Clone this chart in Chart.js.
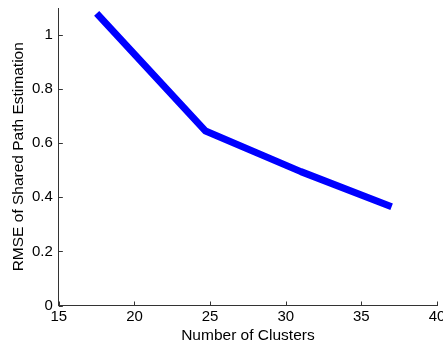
<!DOCTYPE html>
<html>
<head>
<meta charset="utf-8">
<script src="https://cdn.jsdelivr.net/npm/chart.js@4"></script>
<style>
  html, body { margin: 0; padding: 0; background: #fff; overflow: hidden; }
  #wrap { width: 443px; height: 343px; }
</style>
</head>
<body>
<div id="wrap"><canvas id="c"></canvas></div>
<script>
// datos
const clusters = [17.5, 24.7, 31, 37];
const rmse = [1.08, 0.645, 0.495, 0.365];
const xTicks = [15, 20, 25, 30, 35, 40];
const yTicks = [0, 0.2, 0.4, 0.6, 0.8, 1];

const TICK_FONT = { family: 'Liberation Sans, Arial, sans-serif', size: 15, lineHeight: 1.2 };
const TITLE_FONT = { family: 'Liberation Sans, Arial, sans-serif', size: 15.5, lineHeight: 1 };
const AXIS = '#333';

// ticks hacia dentro, estilo MATLAB
const inwardTicks = {
  id: 'inwardTicks',
  afterDraw(chart) {
    const { ctx, chartArea: a, scales } = chart;
    ctx.save();
    ctx.strokeStyle = AXIS;
    ctx.lineWidth = 1;
    ctx.beginPath();
    scales.x.ticks.forEach((t, i) => {
      const px = Math.round(scales.x.getPixelForTick(i)) + 0.5;
      ctx.moveTo(px, a.bottom);
      ctx.lineTo(px, a.bottom - 4);
    });
    scales.y.ticks.forEach((t, i) => {
      const py = Math.round(scales.y.getPixelForTick(i)) + 0.5;
      ctx.moveTo(a.left, py);
      ctx.lineTo(a.left + 4, py);
    });
    ctx.stroke();
    ctx.restore();
  }
};

// sin margen extra por las etiquetas de los extremos (el "40" queda cortado)
const noEdgePad = s => { s.paddingTop = 0; s.paddingBottom = 0; s.paddingLeft = 0; s.paddingRight = 0; };

new Chart(document.getElementById('c'), {
  type: 'line',
  data: {
    datasets: [{
      data: clusters.map((x, i) => ({ x, y: rmse[i] })),
      borderColor: '#0000ff',
      borderWidth: 7,
      pointRadius: 0,
      tension: 0,
      borderJoinStyle: 'round',
      fill: false,
    }]
  },
  options: {
    responsive: true,
    maintainAspectRatio: false,
    animation: false,
    events: [],
    layout: { padding: { left: 10.5, top: 8, right: 6, bottom: 0 } },
    plugins: { legend: { display: false }, tooltip: { enabled: false } },
    scales: {
      x: {
        type: 'linear',
        min: 15, max: 40,
        afterBuildTicks: s => { s.ticks = xTicks.map(v => ({ value: v })); },
        afterFit: noEdgePad,
        grid: { display: false, drawTicks: false },
        border: { display: true, color: AXIS, width: 1 },
        ticks: { color: '#000', font: TICK_FONT, padding: 2, maxRotation: 0, callback: v => String(v) },
        title: { display: true, text: 'Number of Clusters', color: '#000', font: TITLE_FONT, padding: 0 },
      },
      y: {
        min: 0, max: 1.1,
        afterBuildTicks: s => { s.ticks = yTicks.map(v => ({ value: v })); },
        afterFit: noEdgePad,
        grid: { display: false, drawTicks: false },
        border: { display: true, color: AXIS, width: 1 },
        ticks: { color: '#000', font: TICK_FONT, padding: 6, callback: v => String(v) },
        title: { display: true, text: 'RMSE of Shared Path Estimation', color: '#000', font: TITLE_FONT, padding: 0 },
      },
    }
  },
  plugins: [inwardTicks]
});
</script>
</body>
</html>
